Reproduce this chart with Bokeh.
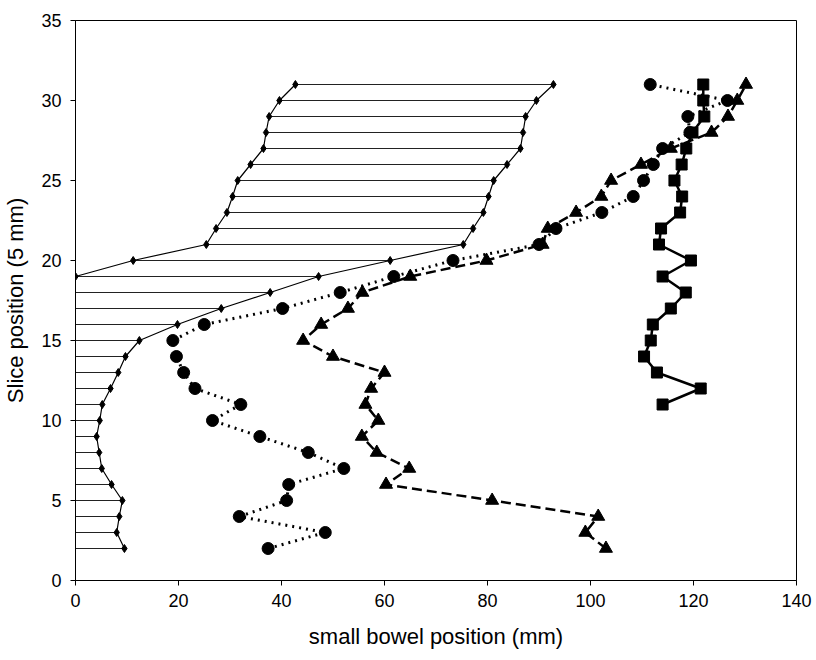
from bokeh.plotting import figure
from bokeh.models import Range1d, SingleIntervalTicker, ColumnDataSource
from bokeh.embed import file_html
from bokeh.resources import INLINE

# Slices with a hatched band (slice position, 5 mm units)
slices = [2, 3, 4, 5, 6, 7, 8, 9, 10, 11, 12, 13, 14, 15, 16, 17, 18, 19, 20,
          21, 22, 23, 24, 25, 26, 27, 28, 29, 30, 31]
band_left = [0, 0, 0, 0, 0, 0, 0, 0, 0, 0, 0, 0, 0, 0, 0, 0, 0, 0, 11.2,
             25.4, 27.3, 29.4, 30.5, 31.5, 34.0, 36.5, 37.0, 37.6, 39.6, 42.7]
band_right = [9.5, 8.0, 8.5, 9.1, 7.0, 5.1, 4.6, 4.1, 4.7, 5.2, 6.8, 8.3, 9.7, 12.4,
              19.8, 28.3, 37.8, 47.2, 61.1, 75.3, 77.2, 79.2, 80.2, 81.2, 83.8,
              86.4, 86.9, 87.4, 89.5, 92.8]
# left boundary curve drawn only where it leaves the axis
left_curve_y = [19, 20, 21, 22, 23, 24, 25, 26, 27, 28, 29, 30, 31]
left_curve_x = [0, 11.2, 25.4, 27.3, 29.4, 30.5, 31.5, 34.0, 36.5, 37.0, 37.6, 39.6, 42.7]

circle_y = slices
circle_x = [37.4, 48.5, 31.8, 41.0, 41.4, 52.1, 45.2, 35.8, 26.6, 32.1, 23.2, 21.0,
            19.6, 18.9, 25.0, 40.2, 51.4, 61.8, 73.3, 90.0, 93.3, 102.2, 108.3,
            110.3, 112.2, 114.0, 119.3, 118.9, 126.6, 111.6]

triangle_y = slices
triangle_x = [103.0, 99.0, 101.5, 80.9, 60.3, 64.8, 58.5, 55.6, 58.8, 56.3, 57.4,
              60.0, 50.0, 44.2, 47.7, 52.9, 55.7, 65.0, 79.8, 90.7, 91.7, 97.2,
              102.1, 104.0, 109.8, 115.6, 123.5, 126.7, 128.5, 130.2]

square_y = [11, 12, 13, 14, 15, 16, 17, 18, 19, 20, 21, 22, 23, 24, 25, 26, 27,
            28, 29, 30, 31]
square_x = [114.0, 121.4, 112.9, 110.4, 111.7, 112.1, 115.6, 118.5, 114.0, 119.5,
            113.3, 113.7, 117.4, 117.8, 116.3, 117.7, 118.6, 119.8, 122.1, 121.9,
            121.9]

FONT = "Liberation Sans"

p = figure(width=816, height=660, output_backend="svg", toolbar_location=None,
           x_range=Range1d(0, 140), y_range=Range1d(0, 35),
           min_border_left=73, min_border_right=20, min_border_top=20,
           min_border_bottom=80)
p.background_fill_color = "white"
p.border_fill_color = "white"
p.outline_line_color = "black"
p.outline_line_width = 1
p.xgrid.visible = False
p.ygrid.visible = False

for ax, interval in ((p.xaxis, 20), (p.yaxis, 5)):
    ax.ticker = SingleIntervalTicker(interval=interval, num_minor_ticks=0)
    ax.major_tick_out = 5
    ax.major_tick_in = 0
    ax.minor_tick_out = 0
    ax.minor_tick_in = 0
    ax.axis_line_color = "black"
    ax.major_tick_line_color = "black"
    ax.major_label_text_font = FONT
    ax.major_label_text_font_size = "18px"
    ax.major_label_text_color = "black"
    ax.axis_label_text_font = FONT
    ax.axis_label_text_font_size = "22px"
    ax.axis_label_text_font_style = "normal"
    ax.axis_label_text_color = "black"

p.xaxis.axis_label = "small bowel position (mm)"
p.yaxis.axis_label = "Slice position (5 mm)"
p.xaxis.major_label_standoff = 8
p.xaxis.axis_label_standoff = 14
p.yaxis.major_label_standoff = 9
p.yaxis.axis_label_standoff = 10

# hatched band
band = ColumnDataSource(dict(x0=band_left, x1=band_right, y=slices))
p.segment(x0="x0", y0="y", x1="x1", y1="y", source=band,
          line_color="#222222", line_width=1)
p.line(band_right, slices, line_color="black", line_width=1.2)
p.scatter(band_right, slices, marker="diamond", size=8, color="black")
p.line(left_curve_x, left_curve_y, line_color="black", line_width=1.2)
p.scatter(left_curve_x, left_curve_y, marker="diamond", size=8, color="black")

# circles, dotted
p.line(circle_x, circle_y, line_color="black", line_width=3, line_dash="2 5")
p.scatter(circle_x, circle_y, marker="circle", size=12, color="black")

# triangles, dashed
p.line(triangle_x, triangle_y, line_color="black", line_width=2.5, line_dash="10 5")
p.scatter(triangle_x, triangle_y, marker="triangle", size=13, color="black")

# squares, solid
p.line(square_x, square_y, line_color="black", line_width=2.5)
p.scatter(square_x, square_y, marker="square", size=11, color="black")

open("out.html", "w").write(file_html(p, INLINE))
